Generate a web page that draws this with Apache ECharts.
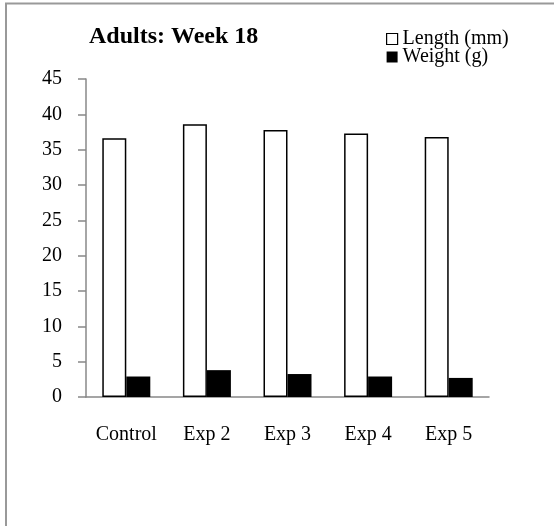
<!DOCTYPE html>
<html>
<head>
<meta charset="utf-8">
<script src="https://cdn.jsdelivr.net/npm/echarts@6/dist/echarts.min.js"></script>
<style>
  html, body { margin: 0; padding: 0; background: #fff; }
  #chart { width: 554px; height: 526px; }
</style>
</head>
<body>
<div id="chart"></div>
<script>
// Adult measurements at week 18, per group
const categories = ['Control', 'Exp 2', 'Exp 3', 'Exp 4', 'Exp 5'];
const lengthMm = [36.6, 38.6, 37.8, 37.3, 36.8];
const weightG = [2.9, 3.8, 3.25, 2.9, 2.7];
const yTicks = { min: 0, max: 45, interval: 5 };

const serif = '"Liberation Serif", "Times New Roman", serif';

const chart = echarts.init(document.getElementById('chart'), null, { renderer: 'canvas' });

chart.setOption({
  backgroundColor: '#ffffff',
  animation: false,
  title: {
    text: 'Adults: Week 18',
    left: 84,
    top: 20,
    textStyle: { fontFamily: serif, fontSize: 24, fontWeight: 'bold', color: '#000' }
  },
  legend: {
    orient: 'vertical',
    left: 386,
    top: 29,
    padding: 0,
    itemWidth: 11,
    itemHeight: 11,
    itemGap: -2,
    icon: 'rect',
    textStyle: { fontFamily: serif, fontSize: 20, color: '#000', lineHeight: 19 },
    data: [
      { name: 'Length (mm)', itemStyle: { color: '#fff', borderColor: '#000', borderWidth: 1.2 } },
      { name: 'Weight (g)', itemStyle: { color: '#000' } }
    ]
  },
  grid: { left: 86, right: 65, top: 79, bottom: 129 },
  xAxis: {
    type: 'category',
    data: categories,
    axisLine: { lineStyle: { color: '#888', width: 1.5 } },
    axisTick: { show: false },
    axisLabel: { fontFamily: serif, fontSize: 20, color: '#000', margin: 28 }
  },
  yAxis: {
    type: 'value',
    min: yTicks.min,
    max: yTicks.max,
    interval: yTicks.interval,
    axisLine: { show: true, lineStyle: { color: '#888', width: 1.5 } },
    axisTick: { show: true, length: 8, lineStyle: { color: '#888', width: 1.5 } },
    splitLine: { show: false },
    axisLabel: { fontFamily: serif, fontSize: 20, color: '#000', margin: 24 }
  },
  series: [
    {
      name: 'Length (mm)',
      type: 'bar',
      data: lengthMm,
      barWidth: 24,
      barGap: '0%',
      itemStyle: { color: '#fff', borderColor: '#000', borderWidth: 1.5 }
    },
    {
      name: 'Weight (g)',
      type: 'bar',
      data: weightG,
      barWidth: 24,
      barGap: '0%',
      itemStyle: { color: '#000' }
    }
  ],
  graphic: [
    {
      type: 'polyline',
      silent: true,
      shape: { points: [[6, 560], [6, 3.5], [560, 3.5]] },
      style: { stroke: '#999', lineWidth: 2, fill: null }
    }
  ]
});
</script>
</body>
</html>
